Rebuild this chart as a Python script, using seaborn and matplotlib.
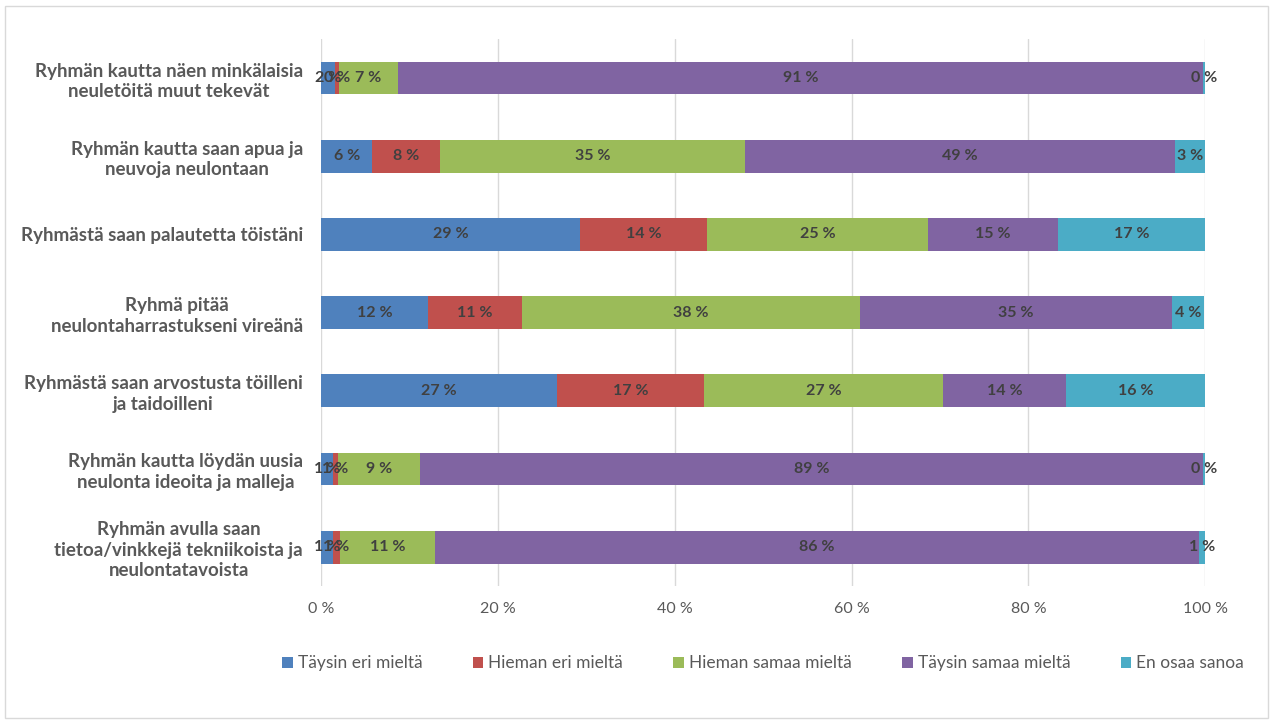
import matplotlib
matplotlib.use("Agg")
import matplotlib.pyplot as plt
import numpy as np
import seaborn as sns
from matplotlib.patches import Rectangle

# data (percent of respondents)
kysymykset = [
    "Ryhmän kautta näen minkälaisia\nneuletöitä muut tekevät",
    "Ryhmän kautta saan apua ja\nneuvoja neulontaan",
    "Ryhmästä saan palautetta töistäni",
    "Ryhmä pitää\nneulontaharrastukseni vireänä",
    "Ryhmästä saan arvostusta töilleni\nja taidoilleni",
    "Ryhmän kautta löydän uusia\nneulonta ideoita ja malleja",
    "Ryhmän avulla saan\ntietoa/vinkkejä tekniikoista ja\nneulontatavoista",
]
vastaukset = ["Täysin eri mieltä", "Hieman eri mieltä", "Hieman samaa mieltä",
              "Täysin samaa mieltä", "En osaa sanoa"]
taysin_eri = [1.6, 5.8, 29.3, 12.1, 26.7, 1.3, 1.3]
hieman_eri = [0.4, 7.6, 14.4, 10.6, 16.6, 0.6, 0.9]
hieman_samaa = [6.7, 34.6, 24.9, 38.3, 27.1, 9.3, 10.7]
taysin_samaa = [91.0, 48.6, 14.7, 35.2, 13.9, 88.6, 86.4]
en_osaa = [0.3, 3.4, 16.7, 3.7, 15.7, 0.2, 0.7]
varit = ["#4F81BD", "#C0504D", "#9BBB59", "#8064A2", "#4BACC6"]

sns.set_style("white")
plt.rcParams["font.family"] = ["Lato", "DejaVu Sans"]

sarjat = np.array([taysin_eri, hieman_eri, hieman_samaa, taysin_samaa, en_osaa])
kumul = sarjat.cumsum(axis=0)

fig = plt.figure(figsize=(12.74, 7.22), dpi=100)
ax = fig.add_axes([0.252, 0.188, 0.694, 0.758])

# stacked bars: draw cumulative totals from the longest down
for i in range(len(vastaukset) - 1, -1, -1):
    sns.barplot(x=kumul[i], y=kysymykset, orient="h", color=varit[i],
                width=0.42, linewidth=0, saturation=1, ax=ax,
                label=vastaukset[i], zorder=3)

for i in range(len(vastaukset)):
    for j in range(len(kysymykset)):
        v = sarjat[i, j]
        ax.text(kumul[i, j] - v / 2, j, f"{v:.0f} %", ha="center", va="center",
                fontsize=11.5, fontweight="bold", color="#404040", zorder=5)

ax.set_xlim(0, 100)
ax.set_ylim(6.5, -0.5)
ax.set_xticks(range(0, 101, 20))
ax.set_xticklabels([f"{t} %" for t in range(0, 101, 20)])
ax.set_xlabel("")
ax.set_ylabel("")
ax.grid(axis="x", color="#D9D9D9", linewidth=1, zorder=0)
ax.grid(axis="y", visible=False)
sns.despine(ax=ax, left=True, bottom=True, top=True, right=True)
ax.tick_params(axis="x", length=0, pad=11, labelsize=11.5, labelcolor="#595959")
ax.tick_params(axis="y", length=0, pad=13, labelsize=13.5, labelcolor="#595959")
for t in ax.get_yticklabels():
    t.set_fontweight("bold")
    t.set_multialignment("center")
    t.set_linespacing(1.25)

h, l = ax.get_legend_handles_labels()
order = [l.index(n) for n in vastaukset]
ax.legend([h[k] for k in order], vastaukset, loc="center",
          bbox_to_anchor=(0.5, -0.141), ncol=5, frameon=False,
          fontsize=12.5, handlelength=0.6, handleheight=0.6,
          handletextpad=0.3, columnspacing=2.9, labelcolor="#595959")

fig.patches.append(Rectangle((0.004, 0.006), 0.991, 0.986, transform=fig.transFigure,
                             fill=False, edgecolor="#D9D9D9", linewidth=1))

fig.savefig("out.png", dpi=100)
